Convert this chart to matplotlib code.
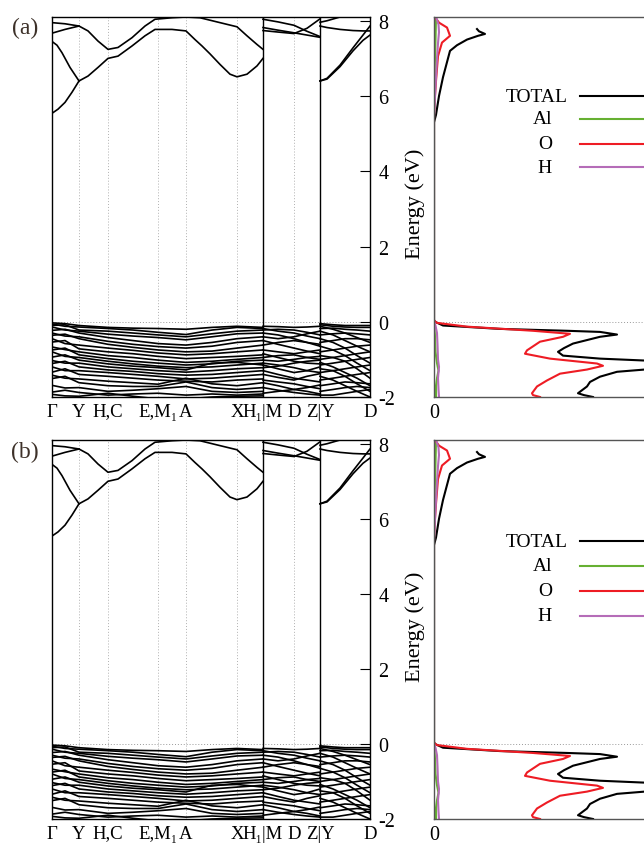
import numpy as np
import matplotlib
matplotlib.use("Agg")
import matplotlib.pyplot as plt

plt.rcParams['font.family'] = ['Liberation Serif', 'DejaVu Serif']
plt.rcParams['axes.unicode_minus'] = False

# high-symmetry points along the k-path
kpt_pos = [0, 27, 56, 106, 134, 185, 211, 242, 268, 318]
kpt_labels = ['Γ', 'Y', 'H,C', 'E,M₁', 'A', 'X', 'H₁|M', 'D', 'Z|Y', 'D']
dotted_pos = [27, 56, 106, 134, 185, 242]
break_pos = [211, 268]

# valence bands, section Γ ... H1
kv1 = [0, 13, 27, 56, 81, 106, 134, 160, 185, 211]
vb1 = [
    [-0.03, -0.05, -0.10, -0.15, -0.17, -0.18, -0.20, -0.15, -0.12, -0.15],
    [-0.06, -0.12, -0.14, -0.18, -0.22, -0.28, -0.34, -0.22, -0.15, -0.18],
    [-0.10, -0.08, -0.22, -0.25, -0.30, -0.35, -0.40, -0.32, -0.25, -0.22],
    [-0.14, -0.22, -0.25, -0.33, -0.38, -0.42, -0.48, -0.40, -0.32, -0.30],
    [-0.23, -0.20, -0.30, -0.42, -0.50, -0.58, -0.62, -0.55, -0.45, -0.40],
    [-0.30, -0.38, -0.40, -0.52, -0.60, -0.66, -0.70, -0.65, -0.55, -0.50],
    [-0.36, -0.33, -0.45, -0.60, -0.68, -0.75, -0.80, -0.78, -0.70, -0.62],
    [-0.45, -0.58, -0.62, -0.70, -0.76, -0.83, -0.88, -0.85, -0.80, -0.75],
    [-0.54, -0.50, -0.72, -0.80, -0.85, -0.92, -0.98, -0.95, -0.92, -0.88],
    [-0.67, -0.74, -0.80, -0.90, -0.95, -1.02, -1.08, -1.05, -1.00, -0.95],
    [-0.75, -0.70, -0.88, -0.98, -1.05, -1.10, -1.15, -1.12, -1.05, -1.02],
    [-0.80, -0.92, -0.95, -1.05, -1.12, -1.18, -1.22, -1.20, -1.15, -1.10],
    [-0.94, -0.88, -1.02, -1.12, -1.18, -1.22, -1.28, -1.10, -1.08, -1.15],
    [-1.03, -1.10, -1.10, -1.20, -1.25, -1.30, -1.34, -1.30, -1.25, -1.22],
    [-1.11, -1.05, -1.20, -1.28, -1.32, -1.38, -1.42, -1.40, -1.35, -1.30],
    [-1.20, -1.30, -1.30, -1.35, -1.40, -1.45, -1.52, -1.50, -1.45, -1.40],
    [-1.34, -1.25, -1.40, -1.45, -1.50, -1.55, -1.58, -1.60, -1.55, -1.52],
    [-1.42, -1.50, -1.52, -1.58, -1.62, -1.66, -1.50, -1.65, -1.70, -1.62],
    [-1.51, -1.45, -1.62, -1.70, -1.72, -1.72, -1.60, -1.75, -1.80, -1.75],
    [-1.69, -1.76, -1.75, -1.85, -1.82, -1.78, -1.72, -1.85, -1.88, -1.85],
    [-1.87, -1.82, -1.88, -1.95, -1.92, -1.90, -1.95, -1.92, -1.95, -1.92],
    [-1.93, -1.97, -1.98, -1.90, -1.98, -2.05, -2.05, -2.00, -1.98, -1.97],
]

# valence bands, section M ... Z
kv2 = [211, 226, 242, 255, 268]
vb2 = [
    [-0.12, -0.13, -0.15, -0.14, -0.12],
    [-0.18, -0.25, -0.30, -0.38, -0.45],
    [-0.22, -0.20, -0.22, -0.28, -0.35],
    [-0.30, -0.35, -0.45, -0.55, -0.60],
    [-0.40, -0.45, -0.40, -0.32, -0.25],
    [-0.50, -0.60, -0.70, -0.78, -0.85],
    [-0.62, -0.55, -0.50, -0.55, -0.65],
    [-0.75, -0.80, -0.85, -0.80, -0.75],
    [-0.85, -0.95, -1.05, -1.10, -1.12],
    [-0.95, -0.90, -0.88, -0.95, -1.00],
    [-1.02, -1.05, -1.00, -0.95, -0.92],
    [-1.10, -1.15, -1.22, -1.30, -1.35],
    [-1.15, -1.25, -1.35, -1.30, -1.20],
    [-1.22, -1.18, -1.10, -1.05, -1.02],
    [-1.30, -1.40, -1.50, -1.55, -1.60],
    [-1.40, -1.48, -1.55, -1.45, -1.38],
    [-1.55, -1.60, -1.65, -1.72, -1.78],
    [-1.62, -1.70, -1.80, -1.75, -1.68],
    [-1.75, -1.82, -1.88, -1.92, -1.95],
    [-1.90, -1.85, -1.80, -1.85, -1.92],
]

# valence bands, section Y ... D
kv3 = [268, 281, 293, 305, 318]
vb3 = [
    [-0.05, -0.08, -0.10, -0.10, -0.10],
    [-0.08, -0.12, -0.14, -0.15, -0.15],
    [-0.12, -0.20, -0.30, -0.42, -0.55],
    [-0.18, -0.17, -0.20, -0.22, -0.25],
    [-0.25, -0.35, -0.50, -0.65, -0.80],
    [-0.35, -0.32, -0.30, -0.32, -0.35],
    [-0.45, -0.55, -0.70, -0.90, -1.10],
    [-0.55, -0.50, -0.45, -0.45, -0.48],
    [-0.65, -0.75, -0.90, -1.10, -1.30],
    [-0.80, -0.75, -0.70, -0.65, -0.62],
    [-0.90, -0.95, -1.05, -1.25, -1.50],
    [-1.00, -0.95, -0.90, -0.85, -0.80],
    [-1.08, -1.20, -1.35, -1.50, -1.70],
    [-1.15, -1.10, -1.05, -1.00, -0.95],
    [-1.25, -1.30, -1.45, -1.65, -1.85],
    [-1.35, -1.30, -1.25, -1.20, -1.15],
    [-1.45, -1.55, -1.70, -1.85, -2.00],
    [-1.55, -1.50, -1.45, -1.40, -1.35],
    [-1.70, -1.65, -1.60, -1.62, -1.65],
    [-1.85, -1.80, -1.75, -1.72, -1.75],
    [-1.95, -1.95, -1.90, -1.85, -1.80],
]

# conduction bands (each with its own k samples)
cb_low_k = [0, 6, 13, 20, 27, 36, 46, 56, 66, 80, 93, 103, 120, 134, 143, 150,
            158, 168, 178, 185, 195, 205, 211]
cb_low_e = [5.54, 5.65, 5.83, 6.10, 6.40, 6.53, 6.76, 7.00, 7.06, 7.33, 7.60, 7.77,
            7.77, 7.73, 7.50, 7.33, 7.12, 6.84, 6.58, 6.51, 6.58, 6.80, 7.00]
cb_gy_k = [0, 5, 10, 18, 27]
cb_gy_e = [7.45, 7.35, 7.15, 6.76, 6.40]
cb_up_k = [0, 13, 27, 36, 46, 56, 66, 80, 93, 103, 120, 134, 148, 168, 185, 195,
           205, 211]
cb_up_e = [7.67, 7.77, 7.86, 7.73, 7.46, 7.24, 7.29, 7.55, 7.86, 8.04, 8.08, 8.10,
           8.08, 7.95, 7.84, 7.60, 7.37, 7.24]
cb_top_k = [0, 13, 27]
cb_top_e = [7.95, 7.92, 7.86]
cb_mz_k = [211, 226, 242, 255, 268]
cb_mz_e = [
    [8.04, 7.97, 7.88, 7.72, 7.58],
    [7.82, 7.75, 7.68, 7.62, 7.56],
    [7.74, 7.70, 7.66, 7.80, 8.05],
]
cb_yd_k = [268, 275, 288, 301, 311, 318]
cb_yd_e = [
    [6.40, 6.45, 6.78, 7.20, 7.48, 7.62],
    [6.40, 6.47, 6.82, 7.28, 7.62, 7.86],
    [7.86, 7.82, 7.77, 7.74, 7.73, 7.73],
    [7.96, 8.00, 8.10, 8.20, 8.30, 8.40],
]

# density of states (energy, states) per channel
dos_total_e = [-2.0, -1.95, -1.9, -1.86, -1.72, -1.6, -1.46, -1.33, -1.25, -1.15,
               -1.03, -0.98, -0.9, -0.8, -0.7, -0.58, -0.4, -0.34, -0.27, -0.24,
               -0.19, -0.1, 0.0, 0.05, 5.3, 5.5, 6.0, 6.5, 7.0, 7.2, 7.35, 7.5,
               7.6, 7.65, 7.72, 7.78]
dos_total = [15.9, 15.0, 14.4, 14.6, 15.3, 15.6, 16.6, 18.3, 22.0, 26.0,
             21.0, 16.6, 12.9, 12.4, 13.0, 13.9, 16.6, 18.3, 16.6, 13.3,
             6.6, 0.9, 0.1, 0.0, 0.0, 0.2, 0.5, 0.9, 1.4, 1.6, 2.3, 3.3,
             4.4, 5.1, 4.5, 4.3]
dos_o_e = [-2.0, -1.95, -1.9, -1.72, -1.56, -1.38, -1.27, -1.17, -1.11, -0.98,
           -0.85, -0.76, -0.53, -0.4, -0.32, -0.24, -0.13, -0.03, 0.03, 5.5,
           6.0, 6.4, 7.06, 7.42, 7.6, 7.82, 7.95, 8.1]
dos_o = [10.6, 9.9, 9.8, 10.3, 11.3, 12.6, 15.3, 16.9, 16.3, 11.6,
         9.1, 9.3, 10.6, 12.9, 13.6, 9.9, 3.3, 0.3, 0.0, 0.0,
         0.1, 0.2, 0.4, 0.8, 1.6, 1.3, 0.5, 0.1]
dos_al_e = [-2.0, -1.7, -1.5, -1.3, -1.1, -0.8, -0.4, 0.0, 5.4, 6.5, 7.5, 8.1]
dos_al = [0.2, 0.2, 0.3, 0.45, 0.3, 0.15, 0.1, 0.0, 0.0, 0.05, 0.15, 0.2]
dos_h_e = [-2.0, -1.8, -1.5, -1.2, -1.0, -0.6, -0.3, -0.1, 0.0, 5.4, 6.0, 6.5,
           7.0, 7.4, 7.7, 7.9, 8.1]
dos_h = [0.5, 0.45, 0.4, 0.5, 0.4, 0.35, 0.3, 0.15, 0.0, 0.0, 0.1, 0.2,
         0.3, 0.4, 0.5, 0.45, 0.2]

dos_series = [
    ('TOTAL', dos_total_e, dos_total, 'black'),
    ('Al', dos_al_e, dos_al, '#66b032'),
    ('O', dos_o_e, dos_o, '#ee1c24'),
    ('H', dos_h_e, dos_h, '#b56cb8'),
]

W, H = 644, 845
fig = plt.figure(figsize=(W / 100, H / 100), dpi=100)


def draw_bands(ax):
    for x in dotted_pos:
        ax.axvline(x, color='#b0b0b0', lw=0.7, ls=(0, (1, 2)), zorder=1)
    for x in break_pos:
        ax.axvline(x, color='black', lw=1.0, zorder=3)
    ax.axhline(0, color='#999999', lw=0.7, ls=(0, (1, 2)), zorder=1)

    kw = dict(color='black', lw=1.2, zorder=2)
    ax.plot(kv1, np.array(vb1).T, **kw)
    ax.plot(kv2, np.array(vb2).T, **kw)
    ax.plot(kv3, np.array(vb3).T, **kw)
    ax.plot(cb_low_k, cb_low_e, **kw)
    ax.plot(cb_gy_k, cb_gy_e, **kw)
    ax.plot(cb_up_k, cb_up_e, **kw)
    ax.plot(cb_top_k, cb_top_e, **kw)
    ax.plot(cb_mz_k, np.array(cb_mz_e).T, **kw)
    ax.plot(cb_yd_k, np.array(cb_yd_e).T, **kw)

    ax.set_xlim(0, 318)
    ax.set_ylim(-2, 8.1)
    ax.set_xticks(kpt_pos)
    ax.set_xticklabels(kpt_labels, fontsize=13.5)
    ax.tick_params(axis='x', length=0, pad=4)
    ax.yaxis.tick_right()
    ax.set_yticks([-2, 0, 2, 4, 6, 8])
    ax.tick_params(axis='y', direction='in', length=7, width=0.8, labelsize=14.5, pad=6)
    for s in ax.spines.values():
        s.set_linewidth(1.0)


def draw_dos(ax, key_rows):
    ax.axhline(0, color='#999999', lw=0.7, ls=(0, (1, 2)), zorder=1)
    for name, e, d, c in dos_series:
        ax.plot(d, e, color=c, lw=1.5, zorder=2)
    ax.set_xlim(0, 30)
    ax.set_ylim(-2, 8.1)
    ax.set_xticks([0])
    ax.tick_params(axis='x', length=0, labelsize=14.5, pad=4)
    ax.set_yticks([])
    for s in ax.spines.values():
        s.set_color('#555555')
        s.set_linewidth(1.0)
    ax.set_ylabel('Energy (eV)', fontsize=16)
    ax.yaxis.set_label_coords(-0.03, 0.51)

    # key: label text to the left of a short sample line
    for (name, e, d, c), ky in zip(dos_series, key_rows):
        tx = 0.447 if name == 'TOTAL' else 0.393
        ax.text(tx, ky, name, transform=ax.transAxes, ha='right', va='center',
                fontsize=14)
        ax.plot([0.487, 1.0], [ky, ky], transform=ax.transAxes, color=c,
                lw=1.5, clip_on=False)


# (top px, bottom px, tag, tag y, key rows) for each row
rows = [
    (18, 398, '(a)', 28, [0.792, 0.732, 0.666, 0.605]),
    (441, 820, '(b)', 452, [0.733, 0.668, 0.602, 0.536]),
]
for top, bot, tag, ty, key_rows in rows:
    ax_b = fig.add_axes([52 / W, 1 - bot / H, 318 / W, (bot - top) / H])
    draw_bands(ax_b)
    ax_d = fig.add_axes([434 / W, 1 - bot / H, 300 / W, (bot - top) / H])
    draw_dos(ax_d, key_rows)
    fig.text(25 / W, 1 - ty / H, tag, fontsize=17, ha='center', va='center',
             color='#3d3129')

fig.savefig('out.png', dpi=100)
